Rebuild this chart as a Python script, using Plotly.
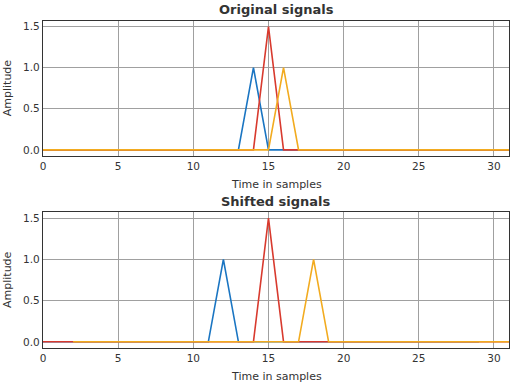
import plotly.graph_objects as go
from plotly.subplots import make_subplots

# samples
t_orig = list(range(32))
blue_orig = [0]*13 + [0, 1.0, 0] + [0]*16
red_orig = [0]*14 + [0, 1.5, 0] + [0]*15
orange_orig = [0]*15 + [0, 1.0, 0] + [0]*14

# shifted: blue -2, red 0, orange +2
t_blue_sh = list(range(30))
blue_sh = [0]*11 + [0, 1.0, 0] + [0]*16
t_red_sh = list(range(32))
red_sh = [0]*14 + [0, 1.5, 0] + [0]*15
t_orange_sh = list(range(2, 34))
orange_sh = [0]*15 + [0, 1.0, 0] + [0]*14

xticks = [0, 5, 10, 15, 20, 25, 30]
yticks = [0, 0.5, 1.0, 1.5]
yticktext = ["0.0", "0.5", "1.0", "1.5"]

colors = ["#1a75c2", "#d83a2e", "#f2ab1f"]
H = 384.0
W = 512.0

fig = make_subplots(rows=2, cols=1)
for ys, c in zip([blue_orig, red_orig, orange_orig], colors):
    fig.add_trace(go.Scatter(x=t_orig, y=ys, mode="lines", line=dict(color=c, width=1.6), showlegend=False), row=1, col=1)
for xs, ys, c in zip([t_blue_sh, t_red_sh, t_orange_sh], [blue_sh, red_sh, orange_sh], colors):
    fig.add_trace(go.Scatter(x=xs, y=ys, mode="lines", line=dict(color=c, width=1.6), showlegend=False), row=2, col=1)

axcommon = dict(showline=True, linecolor="#333333", linewidth=1.2, mirror=True, automargin=False,
                showgrid=True, gridcolor="#a0a0a0", gridwidth=0.8, zeroline=False,
                ticks="", tickfont=dict(family="DejaVu Sans", size=10.5, color="#333333"))
fig.update_xaxes(range=[0, 31], tickvals=xticks, **axcommon)
fig.update_yaxes(range=[-0.075, 1.575], tickvals=yticks, ticktext=yticktext, **axcommon)

L, R = 43, 509
top1, bot1 = 20.5, 156
top2, bot2 = 212, 348

def ann(text, x, y, size, angle=0):
    return dict(text=text, x=(x - L) / (R - L), y=1 - y / H, xref="paper", yref="paper", showarrow=False,
                textangle=angle, font=dict(size=size, family="DejaVu Sans", color="#333333"),
                xanchor="center", yanchor="middle")

fig.update_layout(
    width=512, height=384, margin=dict(l=L, r=W - R, t=0, b=0, autoexpand=False),
    plot_bgcolor="white", paper_bgcolor="white",
    font=dict(family="DejaVu Sans", color="#333333"),
    yaxis=dict(domain=[1 - bot1/H, 1 - top1/H]),
    yaxis2=dict(domain=[1 - bot2/H, 1 - top2/H]),
    annotations=[
        ann("<b>Original signals</b>", (L + R) / 2, 9, 13),
        ann("<b>Shifted signals</b>", (L + R) / 2, 201, 13),
        ann("Time in samples", (L + R) / 2, 184, 11),
        ann("Time in samples", (L + R) / 2, 376, 11),
        ann("Amplitude", 7, (top1 + bot1) / 2, 11, -90),
        ann("Amplitude", 7, (top2 + bot2) / 2, 11, -90),
    ],
)
fig.write_html("out.html", config={"displayModeBar": False},
               post_script="document.body.style.margin='0';document.body.style.overflow='hidden';")
